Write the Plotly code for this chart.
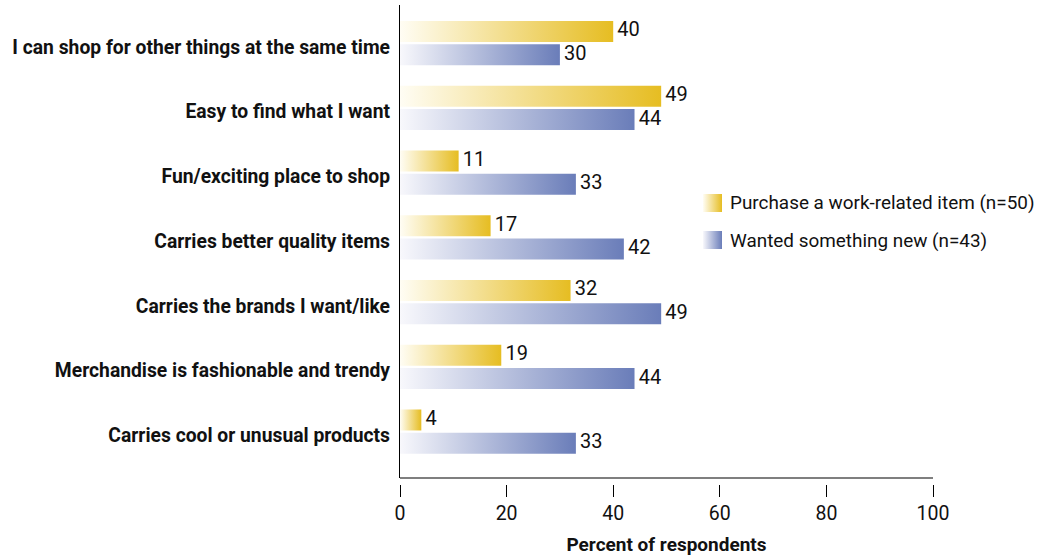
import plotly.graph_objects as go

# Survey data
categories = [
    "I can shop for other things at the same time",
    "Easy to find what I want",
    "Fun/exciting place to shop",
    "Carries better quality items",
    "Carries the brands I want/like",
    "Merchandise is fashionable and trendy",
    "Carries cool or unusual products",
]
work_item = [40, 49, 11, 17, 32, 19, 4]
something_new = [30, 44, 33, 42, 49, 44, 33]
series_names = ["Purchase a work-related item (n=50)", "Wanted something new (n=43)"]
x_ticks = [0, 20, 40, 60, 80, 100]

# Styling
FONT = "Roboto, Liberation Sans, sans-serif"
YELLOW_SCALE = [[0, "#FFFDF4"], [1, "#E6BD22"]]
BLUE_SCALE = [[0, "#F8F8FC"], [1, "#6A7DB9"]]
BAR_HALF = 0.162
OFFSETS = [-0.178, 0.183]

W, H = 1055, 558
M_L, M_R, M_T, M_B = 400, 122, 5, 60
plot_h = H - M_T - M_B


def paper_y(px):
    return (H - M_B - px) / plot_h


def paper_x(px):
    return (px - M_L) / (W - M_L - M_R)


fig = go.Figure()


def add_bar(value, yc, scale, xa="x", ya="y", x0=0):
    fig.add_trace(go.Scatter(
        x=[x0, value, value, x0, x0],
        y=[yc - BAR_HALF, yc - BAR_HALF, yc + BAR_HALF, yc + BAR_HALF, yc - BAR_HALF],
        mode="lines", fill="toself", line=dict(width=0),
        fillgradient=dict(type="horizontal", colorscale=scale),
        xaxis=xa, yaxis=ya, showlegend=False, hoverinfo="skip",
    ))


for values, scale, off in [(work_item, YELLOW_SCALE, OFFSETS[0]),
                           (something_new, BLUE_SCALE, OFFSETS[1])]:
    for i, v in enumerate(values):
        add_bar(v, i + off, scale)
    # value labels: an invisible marker pads the text away from the bar end
    fig.add_trace(go.Scatter(
        x=values, y=[i + off for i in range(len(values))],
        mode="markers+text", marker=dict(size=5, opacity=0),
        text=[str(v) for v in values], textposition="middle right",
        textfont=dict(family=FONT, size=20, color="#111111"),
        showlegend=False, hoverinfo="skip",
    ))

# Legend swatches drawn on a small helper axis pair
sw_x0, sw_x1 = 703, 722
sw_rows = [(194, 212), (231, 249)]
for (t, b), scale in zip(sw_rows, [YELLOW_SCALE, BLUE_SCALE]):
    fig.add_trace(go.Scatter(
        x=[0, 1, 1, 0, 0], y=[t, t, b, b, t],
        mode="lines", fill="toself", line=dict(width=0),
        fillgradient=dict(type="horizontal", colorscale=scale),
        xaxis="x2", yaxis="y2", showlegend=False, hoverinfo="skip",
    ))

for (t, b), name in zip(sw_rows, series_names):
    fig.add_annotation(
        text=name, xref="paper", yref="paper", x=paper_x(728), y=paper_y((t + b) / 2),
        xanchor="left", yanchor="middle", showarrow=False,
        font=dict(family=FONT, size=18.9, color="#111111"),
    )

n = len(categories)
px_per_cat = 64.75
y_dom_bottom = paper_y(478)
fig.update_layout(
    width=W, height=H,
    margin=dict(l=M_L, r=M_R, t=M_T, b=M_B),
    plot_bgcolor="white", paper_bgcolor="white",
    showlegend=False,
    xaxis=dict(
        range=[0, 100], tickvals=x_ticks, ticks="outside", ticklen=12, tickwidth=1,
        tickcolor="#000000", showline=False, showgrid=False, zeroline=False,
        anchor="free", position=paper_y(484), automargin=False,
        tickfont=dict(family=FONT, size=19.5, color="#111111"),
        title=dict(text="<b>Percent of respondents</b>", standoff=13,
                   font=dict(family=FONT, size=19, color="#111111")),
    ),
    yaxis=dict(
        domain=[y_dom_bottom, 1],
        range=[n - 1 + 46.5 / px_per_cat, -38 / px_per_cat],
        tickvals=[i + 0.06 for i in range(n)],
        ticktext=[f"<b>{c}</b>" for c in categories],
        ticks="", ticklabelstandoff=5, automargin=False,
        showline=True, linecolor="#000000", linewidth=1.2,
        showgrid=False, zeroline=False,
        tickfont=dict(family=FONT, size=19.3, color="#111111"),
    ),
    xaxis2=dict(domain=[paper_x(sw_x0), paper_x(sw_x1)], range=[0, 1], visible=False,
                anchor="y2", fixedrange=True),
    yaxis2=dict(domain=[paper_y(249), paper_y(194)], range=[249, 194], visible=False,
                anchor="x2", fixedrange=True),
)

# Bottom axis line along the base of the plotting area
fig.add_shape(type="line", xref="x", yref="y domain", x0=0, x1=100, y0=0, y1=0,
              line=dict(color="#000000", width=1.2))

fig.write_html("out.html")
